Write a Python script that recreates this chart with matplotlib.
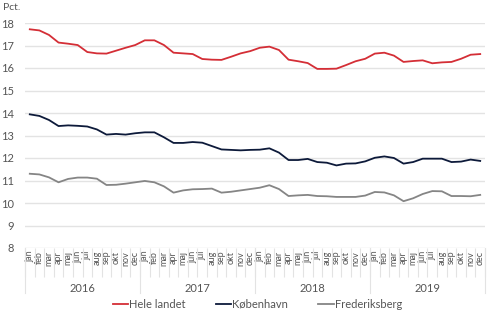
import numpy as np
import matplotlib
matplotlib.use('Agg')
import matplotlib.pyplot as plt

plt.rcParams['font.family'] = ['Lato', 'DejaVu Sans']
plt.rcParams.update({
    'axes.spines.top': False,
    'axes.spines.right': False,
    'axes.spines.left': False,
    'axes.spines.bottom': False,
})

years = ['2016', '2017', '2018', '2019']
months = ['jan', 'feb', 'mar', 'apr', 'maj', 'jun', 'jul', 'aug', 'sep', 'okt', 'nov', 'dec']

hele_landet = [17.72, 17.67, 17.47, 17.13, 17.08, 17.02, 16.71, 16.65, 16.64, 16.77, 16.90, 17.02,
               17.23, 17.23, 17.02, 16.68, 16.65, 16.62, 16.40, 16.37, 16.36, 16.50, 16.65, 16.75,
               16.90, 16.95, 16.80, 16.37, 16.30, 16.22, 15.96, 15.96, 15.97, 16.13, 16.30, 16.41,
               16.64, 16.68, 16.55, 16.27, 16.31, 16.34, 16.21, 16.25, 16.27, 16.41, 16.59, 16.62]
koebenhavn = [13.94, 13.87, 13.69, 13.42, 13.45, 13.43, 13.40, 13.27, 13.04, 13.07, 13.04, 13.10,
              13.14, 13.14, 12.92, 12.67, 12.67, 12.71, 12.68, 12.53, 12.38, 12.36, 12.34, 12.36,
              12.37, 12.43, 12.24, 11.91, 11.91, 11.96, 11.82, 11.79, 11.67, 11.75, 11.76, 11.85,
              12.01, 12.07, 12.00, 11.75, 11.82, 11.97, 11.97, 11.97, 11.82, 11.84, 11.93, 11.87]
frederiksberg = [11.30, 11.27, 11.14, 10.92, 11.07, 11.13, 11.13, 11.08, 10.80, 10.81, 10.86, 10.92,
                 10.98, 10.92, 10.74, 10.46, 10.56, 10.61, 10.62, 10.64, 10.46, 10.50, 10.56, 10.62,
                 10.68, 10.79, 10.62, 10.31, 10.34, 10.36, 10.31, 10.30, 10.27, 10.27, 10.27, 10.33,
                 10.49, 10.47, 10.34, 10.08, 10.21, 10.40, 10.53, 10.52, 10.31, 10.31, 10.30, 10.36]

series = [
    (hele_landet, '#d42e36', 'Hele landet'),
    (koebenhavn, '#0d1a3a', 'København'),
    (frederiksberg, '#858585', 'Frederiksberg'),
]

text_color = '#555555'
grid_color = '#e3e3e3'

fig = plt.figure(figsize=(4.95, 3.22), dpi=100)
ax = fig.add_axes([25 / 495, 1 - 248 / 322, 460 / 495, 225 / 322])

n = len(years) * len(months)
x = np.arange(n)
for values, color, label in series:
    ax.plot(x, values, color=color, linewidth=1.3, label=label)

ax.set_xlim(-0.5, n - 0.5)
ax.set_ylim(8, 18)
ax.set_yticks(range(8, 19))
ax.grid(axis='y', color=grid_color, linewidth=1)
ax.set_axisbelow(True)
ax.tick_params(axis='y', length=0, pad=8, labelsize=8, labelcolor=text_color)

# månedsnavne under aksen, skillestreger mellem månederne
ax.set_xticks(x)
ax.set_xticklabels(months * len(years), rotation=90, fontsize=6.5, color=text_color)
ax.set_xticks(np.arange(n + 1) - 0.5, minor=True)
ax.tick_params(axis='x', which='major', length=0, pad=2)
ax.tick_params(axis='x', which='minor', length=21, width=0.8, color=grid_color)

trans = ax.get_xaxis_transform()
for k, year in enumerate(years):
    ax.text(k * 12 + 5.5, -0.18, year, transform=trans, ha='center', va='center',
            fontsize=8, color=text_color)
for k in range(len(years) + 1):
    ax.plot([k * 12 - 0.5] * 2, [0, -0.2], transform=trans, color=grid_color,
            linewidth=0.8, clip_on=False)

fig.text(3 / 495, 1 - 8 / 322, 'Pct.', fontsize=7.5, color=text_color, va='center')

fig.legend(loc='center', bbox_to_anchor=(0.52, 1 - 304 / 322), ncol=3, frameon=False,
           fontsize=8, handlelength=1.4, handletextpad=0.1, columnspacing=2.7,
           labelcolor=text_color)

fig.savefig('out.png', dpi=100)
